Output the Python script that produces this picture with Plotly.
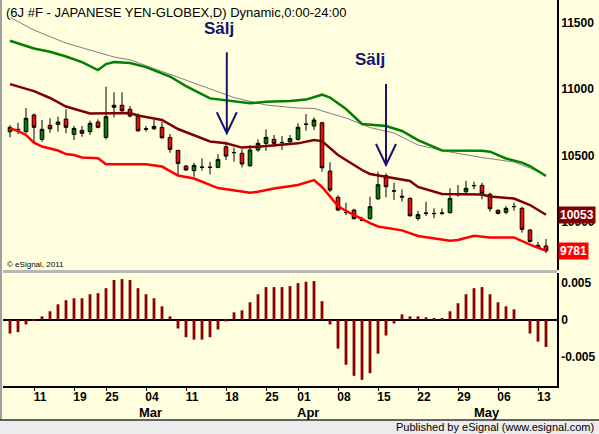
"""
6J yen futures daily chart with bands and an oscillator panel
"""
import plotly.graph_objects as go

BG = '#FFFFE0'
NAVY = '#14146E'

# one slot per trading day, 08 Feb - 16 May 2011
DAYS = list(range(68))

OPEN = [10679, 10697, 10679, 10805, 10621, 10727, 10734, 10774, 10659, 10689,
        10679, 10752, 10636, 10863, 10878, 10848, 10797, 10697, 10701, 10712,
        10636, 10538, 10420, 10385, 10410, 10412, 10410, 10565, 10520, 10516,
        10422, 10541, 10591, 10621, 10596, 10603, 10621, 10734, 10722, 10746,
        10382, 10184, 10068, 10088, 10018, 10023, 10173, 10347, 10231, 10192,
        10176, 10024, 10063, 10063, 10062, 10068, 10204, 10226, 10271, 10274,
        10207, 10086, 10071, 10113, 10101, 9937, 9822, 9817]
HIGH = [10729, 10746, 10857, 10817, 10767, 10780, 10792, 10848, 10722, 10722,
        10762, 10772, 11018, 10976, 10976, 10872, 10817, 10722, 10767, 10754,
        10661, 10542, 10428, 10445, 10478, 10452, 10510, 10603, 10558, 10546,
        10578, 10621, 10697, 10654, 10646, 10654, 10742, 10812, 10787, 10754,
        10448, 10199, 10143, 10098, 10038, 10189, 10377, 10365, 10294, 10244,
        10184, 10081, 10151, 10101, 10101, 10252, 10277, 10309, 10302, 10294,
        10219, 10093, 10118, 10143, 10113, 9945, 9847, 9870]
LOW = [10636, 10661, 10667, 10591, 10603, 10671, 10679, 10667, 10616, 10641,
       10654, 10704, 10621, 10787, 10817, 10787, 10679, 10679, 10691, 10626,
       10520, 10352, 10385, 10339, 10385, 10357, 10403, 10465, 10452, 10410,
       10415, 10528, 10535, 10565, 10541, 10591, 10611, 10686, 10691, 10377,
       10224, 10081, 10051, 10018, 10003, 10018, 10164, 10184, 10164, 10151,
       10038, 10008, 10043, 10026, 10051, 10063, 10189, 10201, 10244, 10169,
       10075, 10056, 10056, 10083, 9917, 9842, 9799, 9762]
CLOSE = [10712, 10695, 10780, 10712, 10697, 10701, 10752, 10712, 10704, 10667,
         10742, 10712, 10792, 10878, 10837, 10797, 10686, 10701, 10719, 10633,
         10546, 10440, 10390, 10425, 10412, 10410, 10470, 10495, 10522, 10435,
         10541, 10591, 10636, 10591, 10598, 10627, 10712, 10736, 10767, 10407,
         10239, 10088, 10070, 10023, 10011, 10113, 10279, 10264, 10233, 10186,
         10045, 10054, 10065, 10061, 10066, 10176, 10206, 10252, 10273, 10214,
         10098, 10063, 10101, 10115, 9943, 9852, 9807, 9781]

# band / average lines, read at the listed days
UPPER_DAYS = [0, 3, 5, 7, 9, 10, 11, 12, 13, 15, 17, 20, 22, 25, 28, 30, 32,
              35, 37, 39, 40, 42, 44, 46, 47, 49, 51, 54, 59, 60, 62, 64, 65, 67]
UPPER = [11365, 11306, 11282, 11246, 11204, 11174, 11144, 11189, 11204, 11197,
         11166, 11095, 11023, 10930, 10905, 10893, 10905, 10910, 10921, 10958,
         10936, 10850, 10737, 10724, 10722, 10684, 10616, 10538, 10535, 10528,
         10477, 10446, 10420, 10345]

SLOW_DAYS = [0, 3, 7, 11, 13, 15, 20, 24, 28, 32, 36, 38, 42, 45, 48, 51, 55,
             59, 63, 65, 67]
SLOW = [11541, 11445, 11347, 11274, 11242, 11221, 11110, 11023, 10936, 10880,
        10857, 10854, 10782, 10710, 10669, 10578, 10526, 10484, 10450, 10405,
        10348]

MID_DAYS = [0, 3, 5, 7, 10, 13, 15, 16, 19, 21, 25, 27, 29, 31, 34, 36, 38,
            39, 41, 44, 45, 47, 50, 51, 54, 59, 60, 63, 65, 67]
MID = [11038, 10985, 10933, 10869, 10817, 10817, 10820, 10801, 10767, 10699,
       10605, 10591, 10559, 10566, 10578, 10591, 10616, 10608, 10503, 10390,
       10360, 10337, 10307, 10262, 10209, 10205, 10190, 10175, 10126, 10053]

LOWER_DAYS = [0, 1, 2, 3, 4, 5, 6, 7, 8, 9, 11, 12, 17, 19, 20, 21, 23, 25,
              26, 30, 31, 33, 36, 38, 39, 41, 42, 45, 46, 49, 51, 55, 56, 58,
              60, 63, 65, 67]
LOWER = [10704, 10684, 10654, 10596, 10567, 10553, 10537, 10510, 10503, 10484,
         10478, 10433, 10433, 10416, 10382, 10348, 10326, 10280, 10254, 10219,
         10226, 10250, 10277, 10314, 10262, 10118, 10081, 9990, 9964, 9935,
         9892, 9857, 9862, 9894, 9882, 9882, 9828, 9781]

# oscillator in the lower pane
OSC = [-0.00185, -0.00167, -0.00063, -0.00010, 0.00045, 0.00113, 0.00207,
       0.00261, 0.00288, 0.00288, 0.00342, 0.00356, 0.00423, 0.00532, 0.00545,
       0.00532, 0.00423, 0.00342, 0.00288, 0.00180, 0.00045, -0.00117,
       -0.00234, -0.00266, -0.00266, -0.00234, -0.00131, -0.00023, 0.00099,
       0.00126, 0.00234, 0.00342, 0.00437, 0.00437, 0.00437, 0.00450, 0.00491,
       0.00509, 0.00518, 0.00248, -0.00063, -0.00387, -0.00604, -0.00752,
       -0.00806, -0.00716, -0.00455, -0.00212, -0.00050, 0.00072, 0.00045,
       0.00045, 0.00032, 0.00018, 0.00018, 0.00113, 0.00221, 0.00342, 0.00423,
       0.00437, 0.00342, 0.00234, 0.00180, 0.00140, 0.00000, -0.00185,
       -0.00293, -0.00365]

TICK_DAYS = [3, 8, 12, 17, 22, 27, 32, 36, 41, 46, 51, 56, 61, 66]
TICK_LABELS = ['11', '19', '25', '04', '11', '18', '25', '01', '08', '15',
               '22', '29', '06', '13']
MONTHS = ['Mar', 'Apr', 'May']
MONTH_DAYS = [17.5, 37.25, 59.6]

PRICE_TICKS = [10000, 10500, 11000, 11500]
PRICE_LABELS = ['10000', '10500', '11000', '11500']
OSC_TICKS = [-0.005, 0, 0.005]
OSC_LABELS = ['-0.005', '0', '0.005']

# sell signals: label position and arrow tip
SELL_LABEL_DAYS = [26.1, 45.0]
SELL_LABEL_PRICE = [11460, 11227]
SELL_TIP_DAYS = [27.1, 47.0]
SELL_TIP_PRICE = [10667, 10428]

fig = go.Figure()

fig.add_trace(go.Scatter(x=SLOW_DAYS, y=SLOW, mode='lines',
                         line=dict(color='#808080', width=1), hoverinfo='skip'))
fig.add_trace(go.Scatter(x=UPPER_DAYS, y=UPPER, mode='lines',
                         line=dict(color='#008000', width=2.5), hoverinfo='skip'))
fig.add_trace(go.Scatter(x=MID_DAYS, y=MID, mode='lines',
                         line=dict(color='#800000', width=2.5), hoverinfo='skip'))
fig.add_trace(go.Scatter(x=LOWER_DAYS, y=LOWER, mode='lines',
                         line=dict(color='#FF0000', width=2.5), hoverinfo='skip'))

fig.add_trace(go.Candlestick(
    x=DAYS, open=OPEN, high=HIGH, low=LOW, close=CLOSE,
    increasing=dict(fillcolor='#008000', line=dict(color='black', width=1)),
    decreasing=dict(fillcolor='#FF0000', line=dict(color='black', width=1)),
    whiskerwidth=0,
))

fig.add_trace(go.Bar(x=DAYS, y=OSC, width=0.35, marker_color='#8B0000',
                     marker_line_width=0, yaxis='y2'))

# pixel helpers for things drawn outside the plot area
PLOT_W, PLOT_H, L, B = 554, 386, 3, 48


def px_x(p):
    return (p - L) / PLOT_W


def px_y(p):
    return (PLOT_H - p) / PLOT_H


shapes = [
    # separator between panes
    dict(type='rect', xref='paper', yref='paper', x0=0, x1=1,
         y0=px_y(273), y1=px_y(270), fillcolor='#B8B8B8', line_width=0),
    # left frame
    dict(type='line', xref='paper', yref='paper', x0=px_x(1), x1=px_x(1),
         y0=px_y(420), y1=1, line=dict(color='#A0A0A0', width=2)),
    # status bar
    dict(type='rect', xref='paper', yref='paper', x0=px_x(0), x1=px_x(599),
         y0=px_y(434), y1=px_y(420), fillcolor='#ECECEC',
         line=dict(color='#ECECEC', width=0)),
    dict(type='line', xref='paper', yref='paper', x0=px_x(0), x1=px_x(599),
         y0=px_y(420), y1=px_y(420), line=dict(color='#303030', width=1.5)),
]
for tip_x, tip_y in zip(SELL_TIP_DAYS, SELL_TIP_PRICE):
    shapes.append(dict(type='path', xref='x', yref='y',
                       xsizemode='pixel', ysizemode='pixel',
                       xanchor=tip_x, yanchor=tip_y,
                       path='M0,0 L0,81 M-10,21 L0,0 L10,21',
                       line=dict(color=NAVY, width=2)))

annotations = [
    dict(text='(6J #F - JAPANESE YEN-GLOBEX,D) Dynamic,0:00-24:00',
         xref='paper', yref='paper', x=0, y=1, xanchor='left', yanchor='top',
         xshift=1, yshift=-3, showarrow=False, font=dict(size=13)),
    dict(text='© eSignal, 2011', xref='paper', yref='paper', x=0, y=px_y(264),
         xanchor='left', yanchor='middle', xshift=2, showarrow=False,
         font=dict(size=8)),
    dict(text='10053', xref='paper', yref='y', x=1, y=MID[-1], xanchor='left',
         yanchor='middle', xshift=1, showarrow=False, bgcolor='#800000',
         borderpad=1, font=dict(size=12, color='white', weight='bold')),
    dict(text='9781', xref='paper', yref='y', x=1, y=LOWER[-1], xanchor='left',
         yanchor='middle', xshift=1, showarrow=False, bgcolor='#FF0000',
         borderpad=1, font=dict(size=12, color='white', weight='bold')),
    dict(text='Published by eSignal (www.esignal.com)', xref='paper',
         yref='paper', x=px_x(596), y=px_y(427), xanchor='right',
         yanchor='middle', showarrow=False, font=dict(size=11)),
]
for lx, ly in zip(SELL_LABEL_DAYS, SELL_LABEL_PRICE):
    annotations.append(dict(text='Sälj', x=lx, y=ly, xref='x', yref='y',
                            showarrow=False,
                            font=dict(size=17, color=NAVY, weight='bold')))
for month, mx in zip(MONTHS, MONTH_DAYS):
    annotations.append(dict(text=month, x=mx, y=px_y(412), xref='x',
                            yref='paper', yanchor='middle', showarrow=False,
                            font=dict(size=13, weight='bold')))

fig.update_layout(
    width=599,
    height=434,
    margin=dict(l=L, r=42, t=0, b=B),
    paper_bgcolor=BG,
    plot_bgcolor=BG,
    showlegend=False,
    boxgap=0.35,
    font=dict(family='Arial, Liberation Sans, sans-serif', color='black', size=12),
    xaxis=dict(
        anchor='y2', range=[-0.875, 68.375],
        tickvals=TICK_DAYS, ticktext=TICK_LABELS,
        ticks='outside', ticklen=3, tickcolor='black', ticklabelshift=6,
        ticklabelstandoff=-4,
        tickfont=dict(size=12, weight='bold'),
        showline=True, linecolor='black', linewidth=1.5,
        showgrid=False, zeroline=False, rangeslider=dict(visible=False),
    ),
    yaxis=dict(
        domain=[px_y(270), 1], side='right', range=[9636, 11672],
        tickvals=PRICE_TICKS, ticktext=PRICE_LABELS, ticks='',
        tickfont=dict(size=12, weight='bold'),
        showline=True, linecolor='black', linewidth=1.5,
        showgrid=False, zeroline=False,
    ),
    yaxis2=dict(
        domain=[0, px_y(273)], side='right', anchor='x',
        range=[-0.00888, 0.00626],
        tickvals=OSC_TICKS, ticktext=OSC_LABELS, ticks='',
        tickfont=dict(size=12, weight='bold'),
        showline=True, linecolor='black', linewidth=1.5,
        showgrid=False, zeroline=True, zerolinecolor='black', zerolinewidth=1.5,
    ),
    shapes=shapes,
    annotations=annotations,
)

fig.write_html("out.html", config={'displayModeBar': False},
               post_script="document.body.style.margin='0px';")
